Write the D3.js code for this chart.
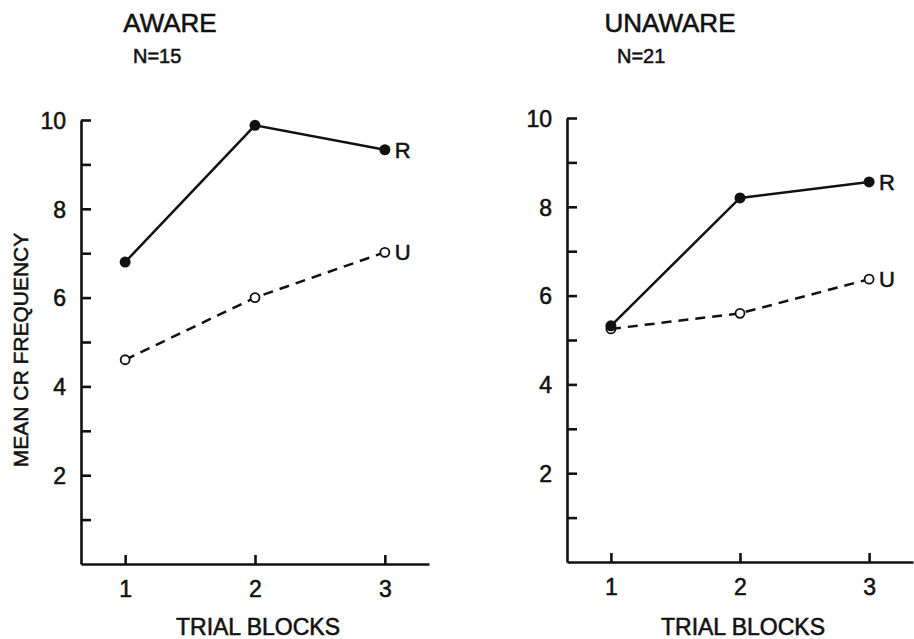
<!DOCTYPE html>
<html>
<head>
<meta charset="utf-8">
<script src="https://cdn.jsdelivr.net/npm/d3@7"></script>
<style>
  body { margin: 0; background: #fff; }
  svg { display: block; }
  text { font-family: "Liberation Sans", Arial, sans-serif; fill: #111; stroke: #111; stroke-width: 0.55; }
  .axis path, .axis line { stroke: #111; stroke-width: 2.6; }
  .axis text { font-size: 23px; fill: #111; stroke: #111; stroke-width: 0.55; font-family: "Liberation Sans", Arial, sans-serif; }
</style>
</head>
<body>
<div id="chart"></div>
<script>
// data
var blocks = [1, 2, 3];
var awareR = [6.8, 9.88, 9.33];
var awareU = [4.6, 6.0, 7.02];
var unawareR = [5.32, 8.2, 8.56];
var unawareU = [5.25, 5.6, 6.37];
var yTickValues = [1, 2, 3, 4, 5, 6, 7, 8, 9, 10];
var titles = ["AWARE", "UNAWARE"];
var nLabels = ["N=15", "N=21"];

var W = 914, H = 639;
var svg = d3.select("#chart").append("svg")
    .attr("width", W).attr("height", H);

var panels = [
  { title: titles[0], n: nLabels[0], r: awareR, u: awareU,
    x0: 81, x1: 429, y0: 564, y10: 120, titleX: 170, nX: 133 },
  { title: titles[1], n: nLabels[1], r: unawareR, u: unawareU,
    x0: 567, x1: 913, y0: 562, y10: 118, titleX: 670, nX: 617 }
];

panels.forEach(function(p) {
  var g = svg.append("g");
  var x = d3.scaleLinear().domain([0.66, 3.34]).range([p.x0, p.x1]);
  var y = d3.scaleLinear().domain([0, 10]).range([p.y0, p.y10]);

  // y axis, ticks pointing inward
  var ya = g.append("g")
    .attr("class", "axis")
    .attr("transform", "translate(" + p.x0 + ",0)")
    .call(d3.axisLeft(y)
      .tickValues(yTickValues)
      .tickSizeInner(-10)
      .tickSizeOuter(0)
      .tickPadding(15)
      .tickFormat(function(d) { return d % 2 === 0 ? d : ""; }));
  ya.attr("font-size", null);
  ya.selectAll("text").attr("dy", "0.36em");

  // x axis
  var xa = g.append("g")
    .attr("class", "axis")
    .attr("transform", "translate(0," + p.y0 + ")")
    .call(d3.axisBottom(x)
      .tickValues(blocks)
      .tickSizeInner(-9)
      .tickSizeOuter(0)
      .tickPadding(17)
      .tickFormat(d3.format("d")));
  xa.attr("font-size", null);

  g.append("text")
    .attr("x", (p.x0 + p.x1) / 2 + 3)
    .attr("y", 635)
    .attr("text-anchor", "middle")
    .style("font-size", "23px")
    .text("TRIAL BLOCKS");

  g.append("text")
    .attr("x", p.titleX)
    .attr("y", 32)
    .attr("text-anchor", "middle")
    .style("font-size", "26px")
    .text(p.title);

  g.append("text")
    .attr("x", p.nX)
    .attr("y", 63)
    .style("font-size", "20px")
    .text(p.n);

  var line = d3.line()
    .x(function(d, i) { return x(blocks[i]); })
    .y(function(d) { return y(d); });

  g.append("path")
    .datum(p.u)
    .attr("d", line)
    .attr("fill", "none")
    .attr("stroke", "#111")
    .attr("stroke-width", 2.5)
    .attr("stroke-dasharray", "10,7");

  g.append("path")
    .datum(p.r)
    .attr("d", line)
    .attr("fill", "none")
    .attr("stroke", "#111")
    .attr("stroke-width", 2.5);

  g.selectAll(".uDot")
    .data(p.u)
    .enter()
    .append("circle")
    .attr("cx", function(d, i) { return x(blocks[i]); })
    .attr("cy", function(d) { return y(d); })
    .attr("r", 4.5)
    .attr("fill", "#fff")
    .attr("stroke", "#111")
    .attr("stroke-width", 1.8);

  g.selectAll(".rDot")
    .data(p.r)
    .enter()
    .append("circle")
    .attr("cx", function(d, i) { return x(blocks[i]); })
    .attr("cy", function(d) { return y(d); })
    .attr("r", 5.5)
    .attr("fill", "#111");

  // series letters at the end of each line
  [["R", p.r], ["U", p.u]].forEach(function(s) {
    g.append("text")
      .attr("x", x(blocks[2]) + 10)
      .attr("y", y(s[1][2]))
      .attr("dy", "0.36em")
      .style("font-size", "22px")
      .text(s[0]);
  });
});

svg.append("text")
  .attr("transform", "translate(28,350) rotate(-90)")
  .attr("text-anchor", "middle")
  .style("font-size", "21px")
  .text("MEAN CR FREQUENCY");
</script>
</body>
</html>
